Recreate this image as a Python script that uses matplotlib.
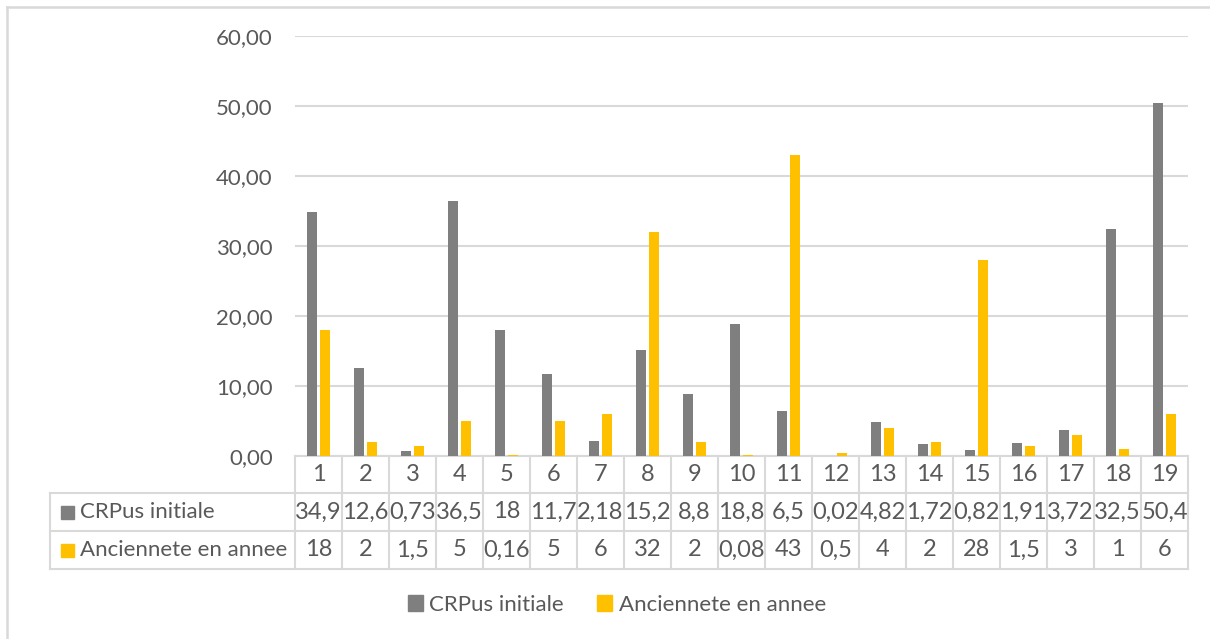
import matplotlib.pyplot as plt
from matplotlib.patches import Patch
from matplotlib.lines import Line2D
import numpy as np

plt.rcParams['font.family'] = ['Lato', 'DejaVu Sans']

# donnees du graphique
categories = [str(i) for i in range(1, 20)]
crpus = [34.9, 12.6, 0.73, 36.5, 18, 11.7, 2.18, 15.2, 8.8, 18.8,
         6.5, 0.02, 4.82, 1.72, 0.82, 1.91, 3.72, 32.5, 50.4]
anciennete = [18, 2, 1.5, 5, 0.16, 5, 6, 32, 2, 0.08,
              43, 0.5, 4, 2, 28, 1.5, 3, 1, 6]
crpus_txt = ["34,9", "12,6", "0,73", "36,5", "18", "11,7", "2,18", "15,2", "8,8", "18,8",
             "6,5", "0,02", "4,82", "1,72", "0,82", "1,91", "3,72", "32,5", "50,4"]
anc_txt = ["18", "2", "1,5", "5", "0,16", "5", "6", "32", "2", "0,08",
           "43", "0,5", "4", "2", "28", "1,5", "3", "1", "6"]
series_names = ["CRPus initiale", "Anciennete en annee"]
yticks = [0, 10, 20, 30, 40, 50, 60]

GRAY = "#7f7f7f"
YELLOW = "#ffc000"
LINE = "#d9d9d9"
TXT = "#595959"
FS = 16
FS_NUM = 17

W, H = 1210, 639
fig = plt.figure(figsize=(W / 100, H / 100), dpi=100)

# cadre du graphique
fig.add_artist(Line2D([7 / W, 7 / W], [0, 1 - 7 / H], color=LINE, lw=1.8))
fig.add_artist(Line2D([7 / W, 1], [1 - 7 / H, 1 - 7 / H], color=LINE, lw=1.8))

left, right, top, bottom = 295, 1188, 36, 456
ax = fig.add_axes([left / W, 1 - bottom / H, (right - left) / W, (bottom - top) / H])

x = np.arange(len(categories))
ax.bar(x - 0.143, crpus, width=0.213, color=GRAY, zorder=3)
ax.bar(x + 0.143, anciennete, width=0.213, color=YELLOW, zorder=3)

ax.set_xlim(-0.5, len(categories) - 0.5)
ax.set_ylim(0, 60)
ax.set_yticks(yticks)
ax.set_yticklabels([("%.2f" % v).replace(".", ",") for v in yticks])
ax.tick_params(axis='y', length=0, pad=16, labelsize=FS, labelcolor=TXT)
ax.set_xticks([])
for s in ax.spines.values():
    s.set_visible(False)
ax.grid(axis='y', color=LINE, lw=1.5, zorder=0)

# tableau de donnees sous l'axe
ph = bottom - top
def ya(ypix):
    return (bottom - ypix) / ph

col_w = (right - left) / len(categories)
tab_left = -0.5 - (left - 50) / col_w
rows_y = [456, 493, 531, 569]
tr = ax.get_xaxis_transform()

for yp in rows_y[1:]:
    ax.add_line(Line2D([tab_left, len(categories) - 0.5], [ya(yp)] * 2, color=LINE,
                       lw=1.5, transform=tr, clip_on=False))
ax.add_line(Line2D([-0.5, len(categories) - 0.5], [0, 0], color=LINE, lw=1.5,
                   transform=tr, clip_on=False))
ax.add_line(Line2D([tab_left, tab_left], [ya(rows_y[1]), ya(rows_y[3])], color=LINE,
                   lw=1.5, transform=tr, clip_on=False))
for i in range(len(categories) + 1):
    ax.add_line(Line2D([i - 0.5, i - 0.5], [0, ya(rows_y[3])], color=LINE, lw=1.5,
                       transform=tr, clip_on=False))

for i in range(len(categories)):
    ax.text(i, ya((rows_y[0] + rows_y[1]) / 2), categories[i], ha='center', va='center',
            fontsize=FS_NUM, color=TXT, transform=tr)
    ax.text(i, ya((rows_y[1] + rows_y[2]) / 2), crpus_txt[i], ha='center', va='center',
            fontsize=FS_NUM, color=TXT, transform=tr)
    ax.text(i, ya((rows_y[2] + rows_y[3]) / 2), anc_txt[i], ha='center', va='center',
            fontsize=FS_NUM, color=TXT, transform=tr)

# libelles des lignes avec carre de couleur
for r, (name, col) in enumerate(zip(series_names, [GRAY, YELLOW])):
    yc = (rows_y[r + 1] + rows_y[r + 2]) / 2
    fig.patches.append(plt.Rectangle((61 / W, 1 - (yc + 7) / H), 13 / W, 13 / H,
                                     color=col, transform=fig.transFigure))
    fig.text(80 / W, 1 - yc / H, name, ha='left', va='center', fontsize=FS, color=TXT)

# legende
handles = [Patch(color=GRAY, label=series_names[0]),
           Patch(color=YELLOW, label=series_names[1])]
fig.legend(handles=handles, loc='center', bbox_to_anchor=(617 / W, 1 - 605 / H), ncol=2,
           frameon=False, fontsize=FS, labelcolor=TXT, handlelength=0.66, handleheight=0.75,
           handletextpad=0.3, columnspacing=1.5)

fig.savefig("out.png", dpi=100)
